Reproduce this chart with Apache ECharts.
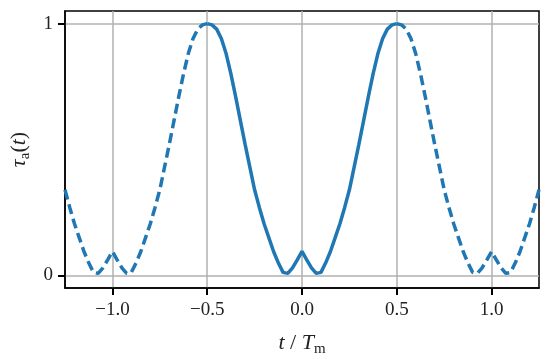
<!DOCTYPE html>
<html>
<head>
<meta charset="utf-8">
<script src="https://cdn.jsdelivr.net/npm/echarts@6/dist/echarts.min.js"></script>
<style>
  html, body { margin: 0; padding: 0; background: #fff; }
  #chart { width: 550px; height: 359px; }
</style>
</head>
<body>
<div id="chart"></div>
<script>
  // t / T_m sample positions, step 0.025 from -1.25 to 1.25
  var tStart = -1.25
  var tStep = 0.025
  // tau_a(t) at each sample
  var tau = [
    0.34, 0.27, 0.205, 0.15, 0.095, 0.05, 0.012, 0.008, 0.03, 0.062, 0.095,
    0.062, 0.03, 0.008, 0.012, 0.05, 0.095, 0.15, 0.205, 0.27, 0.34,
    0.43, 0.52, 0.615, 0.71, 0.8, 0.88, 0.94, 0.978, 0.995, 1.0,
    0.995, 0.978, 0.94, 0.88, 0.8, 0.71, 0.615, 0.52, 0.43, 0.34,
    0.27, 0.205, 0.15, 0.095, 0.05, 0.012, 0.008, 0.03, 0.062, 0.095,
    0.062, 0.03, 0.008, 0.012, 0.05, 0.095, 0.15, 0.205, 0.27, 0.34,
    0.43, 0.52, 0.615, 0.71, 0.8, 0.88, 0.94, 0.978, 0.995, 1.0,
    0.995, 0.978, 0.94, 0.88, 0.8, 0.71, 0.615, 0.52, 0.43, 0.34,
    0.27, 0.205, 0.15, 0.095, 0.05, 0.012, 0.008, 0.03, 0.062, 0.095,
    0.062, 0.03, 0.008, 0.012, 0.05, 0.095, 0.15, 0.205, 0.27, 0.34
  ]
  var xTicks = [-1, -0.5, 0, 0.5, 1]
  var yTicks = [0, 1]
  // solid inside one period, dashed outside
  var solidFrom = -0.5
  var solidTo = 0.5

  var solid = []
  var dashed = []
  tau.forEach(function (v, i) {
    var t = +(tStart + i * tStep).toFixed(4)
    var inside = t >= solidFrom - 1e-9 && t <= solidTo + 1e-9
    solid.push([t, inside ? v : null])
    var edge = Math.abs(t - solidFrom) < 1e-9 || Math.abs(t - solidTo) < 1e-9
    dashed.push([t, (!inside || edge) ? v : null])
  })

  var font = '"Liberation Serif", "DejaVu Serif", serif'
  var blue = '#1f77b4'
  var ink = '#222'

  var nameRich = {
    n: { fontFamily: font, fontSize: 22, color: ink, lineHeight: 26 },
    i: { fontFamily: font, fontSize: 22, fontStyle: 'italic', color: ink, lineHeight: 26 },
    sub: { fontFamily: font, fontSize: 15, color: ink, verticalAlign: 'top', padding: [12, 0, 0, 0] }
  }

  var myEcharts = echarts.init(document.getElementById('chart'))
  var option = {
    animation: false,
    grid: {
      left: 65,
      right: 11,
      top: 11,
      bottom: 71,
      outerBoundsMode: 'none',
      show: true,
      borderColor: '#000',
      borderWidth: 1.5,
      backgroundColor: 'transparent'
    },
    xAxis: {
      type: 'value',
      min: -1.25,
      max: 1.25,
      axisLine: { show: true, onZero: false, lineStyle: { color: '#000', width: 1.5 } },
      axisTick: {
        show: true,
        customValues: xTicks,
        length: 7,
        lineStyle: { color: '#000', width: 2 }
      },
      axisLabel: {
        customValues: xTicks,
        color: ink,
        fontFamily: font,
        fontSize: 19,
        margin: 13,
        formatter: function (v) {
          return (v < 0 ? '\u2212' : '') + Math.abs(v).toFixed(1)
        }
      },
      splitLine: {
        show: true,
        lineStyle: { color: '#b0b0b0', width: 1.5 }
      },
      name: '{i|t} {n|/} {i|T}{sub|m}',
      nameLocation: 'middle',
      nameGap: 42,
      nameTextStyle: { color: ink, fontFamily: font, fontSize: 22, rich: nameRich }
    },
    yAxis: {
      type: 'value',
      min: -0.05,
      max: 1.05,
      axisLine: { show: true, onZero: false, lineStyle: { color: '#000', width: 1.5 } },
      axisTick: {
        show: true,
        customValues: yTicks,
        length: 7,
        lineStyle: { color: '#000', width: 2 }
      },
      axisLabel: {
        customValues: yTicks,
        color: ink,
        fontFamily: font,
        fontSize: 19,
        margin: 12
      },
      splitLine: {
        show: true,
        lineStyle: { color: '#b0b0b0', width: 1.5 }
      },
      name: '{i|\u03c4}{sub|a}{n|(}{i|t}{n|)}',
      nameLocation: 'middle',
      nameGap: 31,
      nameRotate: 90,
      nameTextStyle: { color: ink, fontFamily: font, fontSize: 22, rich: nameRich }
    },
    series: [
      {
        type: 'line',
        data: dashed,
        showSymbol: false,
        connectNulls: false,
        lineStyle: { color: blue, width: 3.5, type: [10, 5] },
        silent: true
      },
      {
        type: 'line',
        data: solid,
        showSymbol: false,
        connectNulls: false,
        lineStyle: { color: blue, width: 3.5 },
        silent: true
      }
    ]
  }
  myEcharts.setOption(option)
</script>
</body>
</html>
